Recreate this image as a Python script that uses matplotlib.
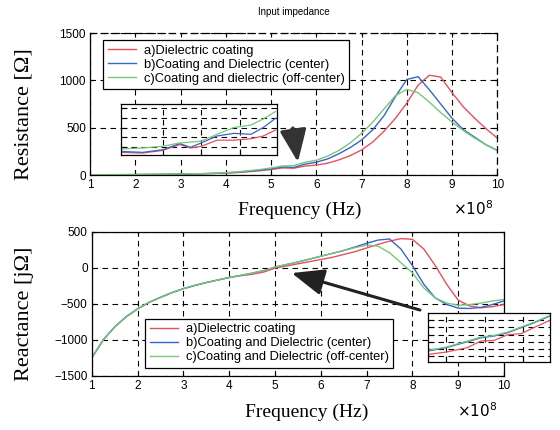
import matplotlib
matplotlib.use("Agg")
import matplotlib.pyplot as plt

# frequency axis in units of 1e8 Hz
freq = [1.00, 1.25, 1.50, 1.75, 2.00, 2.25, 2.50, 2.75, 3.00, 3.25, 3.50, 3.75,
        4.00, 4.25, 4.50, 4.75, 5.00, 5.25, 5.50, 5.75, 6.00, 6.25, 6.50, 6.75,
        7.00, 7.25, 7.50, 7.75, 8.00, 8.25, 8.50, 8.75, 9.00, 9.25, 9.50, 9.75, 10.00]

# resistance [ohm]
res_a = [2, 2, 3, 3, 4, 5, 6, 7, 9, 11, 13, 16,
         20, 26, 35, 45, 58, 75, 72, 95, 105, 125, 160, 205,
         265, 350, 465, 600, 760, 950, 1055, 1035, 870, 720, 600, 490, 390]
res_b = [3, 3, 4, 4, 5, 6, 7, 8, 10, 12, 14, 18,
         23, 30, 40, 52, 65, 85, 80, 115, 135, 170, 225, 290,
         370, 480, 630, 830, 1010, 1040, 900, 750, 600, 480, 400, 320, 260]
res_c = [3, 3, 4, 4, 5, 6, 7, 9, 11, 13, 15, 19,
         25, 33, 45, 58, 75, 95, 100, 135, 155, 200, 260, 340,
         440, 560, 700, 840, 905, 870, 770, 660, 560, 470, 390, 320, 260]

# reactance [j ohm]
reac_a = [-1250, -1000, -820, -680, -570, -480, -410, -345, -290, -245, -205, -170,
          -135, -110, -90, -60, -5, 25, 55, 85, 115, 145, 185, 225,
          275, 325, 370, 405, 395, 260, 30, -230, -450, -530, -555, -540, -510]
reac_b = [-1250, -1000, -820, -680, -570, -480, -410, -345, -290, -245, -205, -170,
          -135, -105, -75, -40, 10, 45, 80, 120, 160, 200, 240, 290,
          340, 385, 400, 260, 30, -230, -420, -510, -560, -565, -550, -510, -460]
reac_c = [-1250, -1000, -820, -680, -570, -480, -410, -345, -290, -245, -205, -170,
          -135, -105, -75, -40, 10, 45, 80, 120, 160, 200, 240, 280,
          315, 300, 210, 70, -70, -280, -420, -490, -520, -510, -490, -460, -440]

# zoomed insets
ins1_f = [4.98, 5.12, 5.25, 5.36, 5.43, 5.50, 5.60, 5.71, 5.82, 5.90, 5.98]
ins1_a = [49, 47.5, 53, 65, 58, 61.5, 74, 74, 77, 82.5, 95]
ins1_b = [51, 49, 54.5, 67, 59.4, 68.5, 82.5, 88, 86, 100, 119]
ins1_c = [56, 58, 61.5, 68.5, 70, 72, 86, 100, 105, 117.5, 133]

ins2_f = [4.705, 4.80, 4.91, 4.98, 5.05, 5.12, 5.19, 5.26, 5.34]
ins2_a = [-94.6, -88.2, -76.2, -57.9, -56, -40.4, -37.6, -20, -0.8]
ins2_b = [-85.5, -76, -60, -49, -44, -35, -21, -7, 11]
ins2_c = [-83.6, -74.4, -57.9, -46.9, -42.3, -33.1, -19.3, -5.5, 12.9]

labels_top = ["a)Dielectric coating", "b)Coating and Dielectric (center)",
              "c)Coating and dielectric (off-center)"]
labels_bot = ["a)Dielectric coating", "b)Coating and Dielectric (center)",
              "c)Coating and Dielectric (off-center)"]

RED, BLUE, GREEN = "#e8505c", "#3566cc", "#78c878"
SANS = "Liberation Sans"
SERIF = "Liberation Serif"
GRID = dict(color="black", linestyle=(0, (5, 4)), linewidth=0.8)

plt.rcParams["font.family"] = SANS

fig = plt.figure(figsize=(5.6, 4.3), dpi=100)


def style_axes(ax, xt, yt):
    ax.set_xticks(xt)
    ax.set_yticks(yt)
    ax.grid(True, **GRID)
    ax.tick_params(direction="in", top=True, right=True, length=3,
                   labelsize=8.5, pad=3)
    for s in ax.spines.values():
        s.set_linewidth(0.9)


def legend(ax, loc, anchor):
    leg = ax.legend(loc=loc, bbox_to_anchor=anchor, fontsize=9.3,
                    frameon=True, fancybox=False, framealpha=1, edgecolor="black",
                    handlelength=2.2, labelspacing=0.15, borderpad=0.35,
                    handletextpad=0.6, borderaxespad=0)
    leg.get_frame().set_linewidth(0.9)
    return leg


# --- top: resistance ---
ax1 = fig.add_axes([0.161, 0.593, 0.727, 0.330])
ax1.plot(freq, res_a, color=RED, lw=1.0, label=labels_top[0])
ax1.plot(freq, res_b, color=BLUE, lw=1.0, label=labels_top[1])
ax1.plot(freq, res_c, color=GREEN, lw=1.0, label=labels_top[2])
ax1.set_xlim(1, 10)
ax1.set_ylim(0, 1500)
style_axes(ax1, range(1, 11), [0, 500, 1000, 1500])
ax1.spines["top"].set_linestyle((0, (5, 4)))
ax1.spines["right"].set_linestyle((0, (5, 4)))
ax1.set_ylabel("Resistance [\u03a9]", family=SERIF, fontsize=16)
ax1.yaxis.set_label_coords(-0.138, 0.43)
legend(ax1, "upper left", (0.032, 0.95))
ax1.set_title("Input impedance", fontsize=7, pad=13)

# --- bottom: reactance ---
ax2 = fig.add_axes([0.164, 0.126, 0.736, 0.335])
ax2.plot(freq, reac_a, color=RED, lw=1.0, label=labels_bot[0])
ax2.plot(freq, reac_b, color=BLUE, lw=1.0, label=labels_bot[1])
ax2.plot(freq, reac_c, color=GREEN, lw=1.0, label=labels_bot[2])
ax2.set_xlim(1, 10)
ax2.set_ylim(-1500, 500)
style_axes(ax2, range(1, 11), [-1500, -1000, -500, 0, 500])
ax2.set_ylabel("Reactance [j\u03a9]", family=SERIF, fontsize=16)
ax2.yaxis.set_label_coords(-0.141, 0.43)
legend(ax2, "lower left", (0.129, 0.056))

# x labels and exponent texts (placed as in the scan)
fig.text(0.536, 0.51, "Frequency (Hz)", family=SERIF, fontsize=14,
         ha="center", va="center")
fig.text(0.845, 0.515, r"$\times10^8$", family=SERIF, fontsize=11,
         ha="center", va="center")
fig.text(0.548, 0.04, "Frequency (Hz)", family=SERIF, fontsize=14,
         ha="center", va="center")
fig.text(0.852, 0.045, r"$\times10^8$", family=SERIF, fontsize=11,
         ha="center", va="center")


# --- insets ---
def inset(rect, f, a, b, c, xl, yl, xt, yt):
    ax = fig.add_axes(rect)
    ax.plot(f, a, color=RED, lw=0.9)
    ax.plot(f, b, color=BLUE, lw=0.9)
    ax.plot(f, c, color=GREEN, lw=0.9)
    ax.set_xlim(*xl)
    ax.set_ylim(*yl)
    ax.set_xticks(xt)
    ax.set_yticks(yt)
    ax.grid(True, **GRID)
    ax.tick_params(direction="in", length=4, labelbottom=False, labelleft=False)
    ax.set_facecolor("white")
    for s in ax.spines.values():
        s.set_linewidth(0.9)
    return ax


inset([0.216, 0.64, 0.279, 0.119], ins1_f, ins1_a, ins1_b, ins1_c,
      (4.98, 5.99), (44, 149), [5.25, 5.5, 5.75], [60, 80, 100, 120, 140])
inset([0.764, 0.158, 0.218, 0.114], ins2_f, ins2_a, ins2_b, ins2_c,
      (4.705, 5.34), (-115.7, 19.3), [4.8, 5.0, 5.2], [-100, -80, -60, -40, -20, 0])

# --- arrows pointing to the zoomed regions ---
fig.add_artist(plt.Annotation(
    "", xy=(0.532, 0.623), xytext=(0.523, 0.702),
    xycoords="figure fraction", textcoords="figure fraction",
    arrowprops=dict(arrowstyle="-|>,head_width=0.45,head_length=1.1",
                    lw=2.5, color="#333333", mutation_scale=18,
                    shrinkA=0, shrinkB=0)))
fig.add_artist(plt.Annotation(
    "", xy=(0.521, 0.365), xytext=(0.75, 0.279),
    xycoords="figure fraction", textcoords="figure fraction",
    arrowprops=dict(arrowstyle="-|>,head_width=0.45,head_length=1.1",
                    lw=2.2, color="#222222", mutation_scale=18,
                    shrinkA=0, shrinkB=0)))

fig.savefig("out.png", dpi=100)
